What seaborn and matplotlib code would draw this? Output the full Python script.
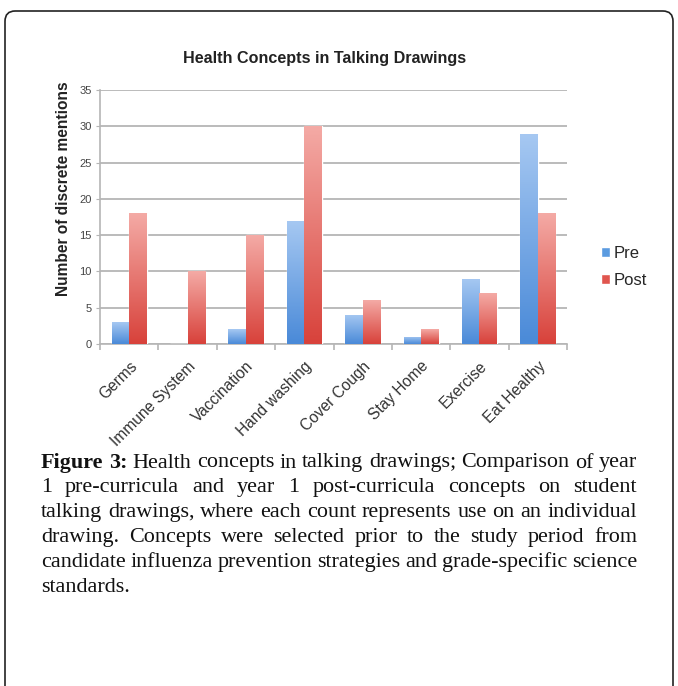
import numpy as np
import pandas as pd
import matplotlib
matplotlib.use("Agg")
import matplotlib.pyplot as plt
import seaborn as sns
from matplotlib.colors import LinearSegmentedColormap
from matplotlib.patches import FancyBboxPatch

categories = ["Germs", "Immune System", "Vaccination", "Hand washing",
              "Cover Cough", "Stay Home", "Exercise", "Eat Healthy"]
pre = [3, 0, 2, 17, 4, 1, 9, 29]
post = [18, 10, 15, 30, 6, 2, 7, 18]
series = ["Pre", "Post"]
yticks = [0, 5, 10, 15, 20, 25, 30, 35]

title = "Health Concepts in Talking Drawings"
ylabel = "Number of discrete mentions"
# caption lines as broken in the original figure
caption_lines = [
    "Figure 3: Health concepts in talking drawings; Comparison of year",
    "1 pre-curricula and year 1 post-curricula concepts on student",
    "talking drawings, where each count represents use on an individual",
    "drawing. Concepts were selected prior to the study period from",
    "candidate influenza prevention strategies and grade-specific science",
    "standards.",
]
bold_words = 2  # "Figure 3:"

df = pd.DataFrame({
    "concept": categories * 2,
    "group": ["Pre"] * len(categories) + ["Post"] * len(categories),
    "count": pre + post,
})

sns.set_style("white")
plt.rcParams["font.family"] = ["Liberation Sans", "DejaVu Sans"]

W, H = 678, 686
fig = plt.figure(figsize=(W / 100, H / 100), dpi=100)
ax = fig.add_axes([100 / W, 1 - 344 / H, 467 / W, 254 / H])

pal = {"Pre": "#5b9be0", "Post": "#e0554e"}
sns.barplot(data=df, x="concept", y="count", hue="group", hue_order=series,
            palette=pal, width=0.6, gap=0.0, ax=ax, legend=True,
            saturation=1, zorder=3)

ax.set_ylim(0, 35)
ax.set_xlim(-0.5, len(categories) - 0.5)
ax.set_yticks(yticks)
ax.set_yticklabels([str(t) for t in yticks], fontsize=8, color="#444444")
ax.yaxis.grid(True, color="#b5b5b5", lw=1.3, zorder=0)
ax.set_axisbelow(True)
for s in ["top", "right"]:
    ax.spines[s].set_visible(False)
for s in ["left", "bottom"]:
    ax.spines[s].set_color("#b5b5b5")
    ax.spines[s].set_linewidth(1.2)
ax.tick_params(axis="y", left=True, length=3, color="#b5b5b5", pad=3)

# category ticks at boundaries
ax.set_xticks(range(len(categories)))
ax.set_xticklabels(categories, rotation=45, ha="right", rotation_mode="anchor",
                   fontsize=11.2, color="#333333")
ax.tick_params(axis="x", bottom=False, pad=7)
ax.set_xticks(np.arange(-0.5, len(categories)), minor=True)
ax.tick_params(axis="x", which="minor", bottom=True, length=4,
               color="#b5b5b5", width=1.2)
ax.set_xlabel("")
ax.set_ylabel("")

# gradient fill on bars
grad_cols = {
    "Pre": LinearSegmentedColormap.from_list("pre", ["#4a8ad8", "#a6c8f2"]),
    "Post": LinearSegmentedColormap.from_list("post", ["#d8423b", "#f4aaa5"]),
}
grad = np.linspace(0, 1, 100).reshape(-1, 1)
for container, name in zip(ax.containers, series):
    for bar in container:
        h = bar.get_height()
        if h <= 0:
            continue
        x0 = bar.get_x()
        w = bar.get_width()
        im = ax.imshow(grad, cmap=grad_cols[name], origin="lower", aspect="auto",
                       extent=[x0, x0 + w, 0, h], zorder=4)
        im.set_clip_path(bar)
ax.set_xlim(-0.5, len(categories) - 0.5)
ax.set_ylim(0, 35)

leg = ax.legend(loc="center left", bbox_to_anchor=(586 / W, 1 - 267 / H),
                bbox_transform=fig.transFigure, frameon=False, fontsize=12,
                handlelength=0.55, handleheight=0.55, handletextpad=0.2,
                labelspacing=0.75)

fig.text(325 / W, 1 - 58 / H, title, ha="center", va="center",
         fontsize=11.6, fontweight="bold", color="#222222")
fig.text(63 / W, 1 - 189 / H, ylabel, rotation=90, ha="center", va="center",
         fontsize=11.2, fontweight="bold", color="#222222")

# rounded frame
frame = FancyBboxPatch((5 / W, -0.05), 668 / W, 1.05 - 11 / H,
                       boxstyle="round,pad=0,rounding_size=0.015",
                       transform=fig.transFigure, fill=False, ec="#222222",
                       lw=1.2, clip_on=False)
fig.patches.append(frame)

# justified caption
fig.canvas.draw()
r = fig.canvas.get_renderer()
left_px, right_px = 41, 637
avail = right_px - left_px
serif = ["Liberation Serif", "DejaVu Serif"]


def wwidth(s, fs, bold=False):
    t = fig.text(0, 0, s, fontsize=fs, family=serif,
                 fontweight="bold" if bold else "normal")
    bb = t.get_window_extent(renderer=r)
    t.remove()
    return bb.width


# size so that the tightest line (line 3) fills the width naturally
fs = 10 * avail / wwidth(caption_lines[2], 10)

y0, dy = 463, 24.8
k = 0
for i, line in enumerate(caption_lines):
    ws = []
    for w in line.split():
        b = k < bold_words
        k += 1
        ws.append((w, b, wwidth(w, fs, b)))
    total = sum(x[2] for x in ws)
    gaps = len(ws) - 1
    if i < len(caption_lines) - 1 and gaps > 0:
        sp = (avail - total) / gaps
    else:
        sp = wwidth("a b", fs) - wwidth("ab", fs)
    x = left_px
    for w, b, ww in ws:
        fig.text(x / W, 1 - (y0 + i * dy) / H, w, fontsize=fs, family=serif,
                 fontweight="bold" if b else "normal", va="center", ha="left",
                 color="#111111")
        x += ww + sp

fig.savefig("out.png", dpi=100)
